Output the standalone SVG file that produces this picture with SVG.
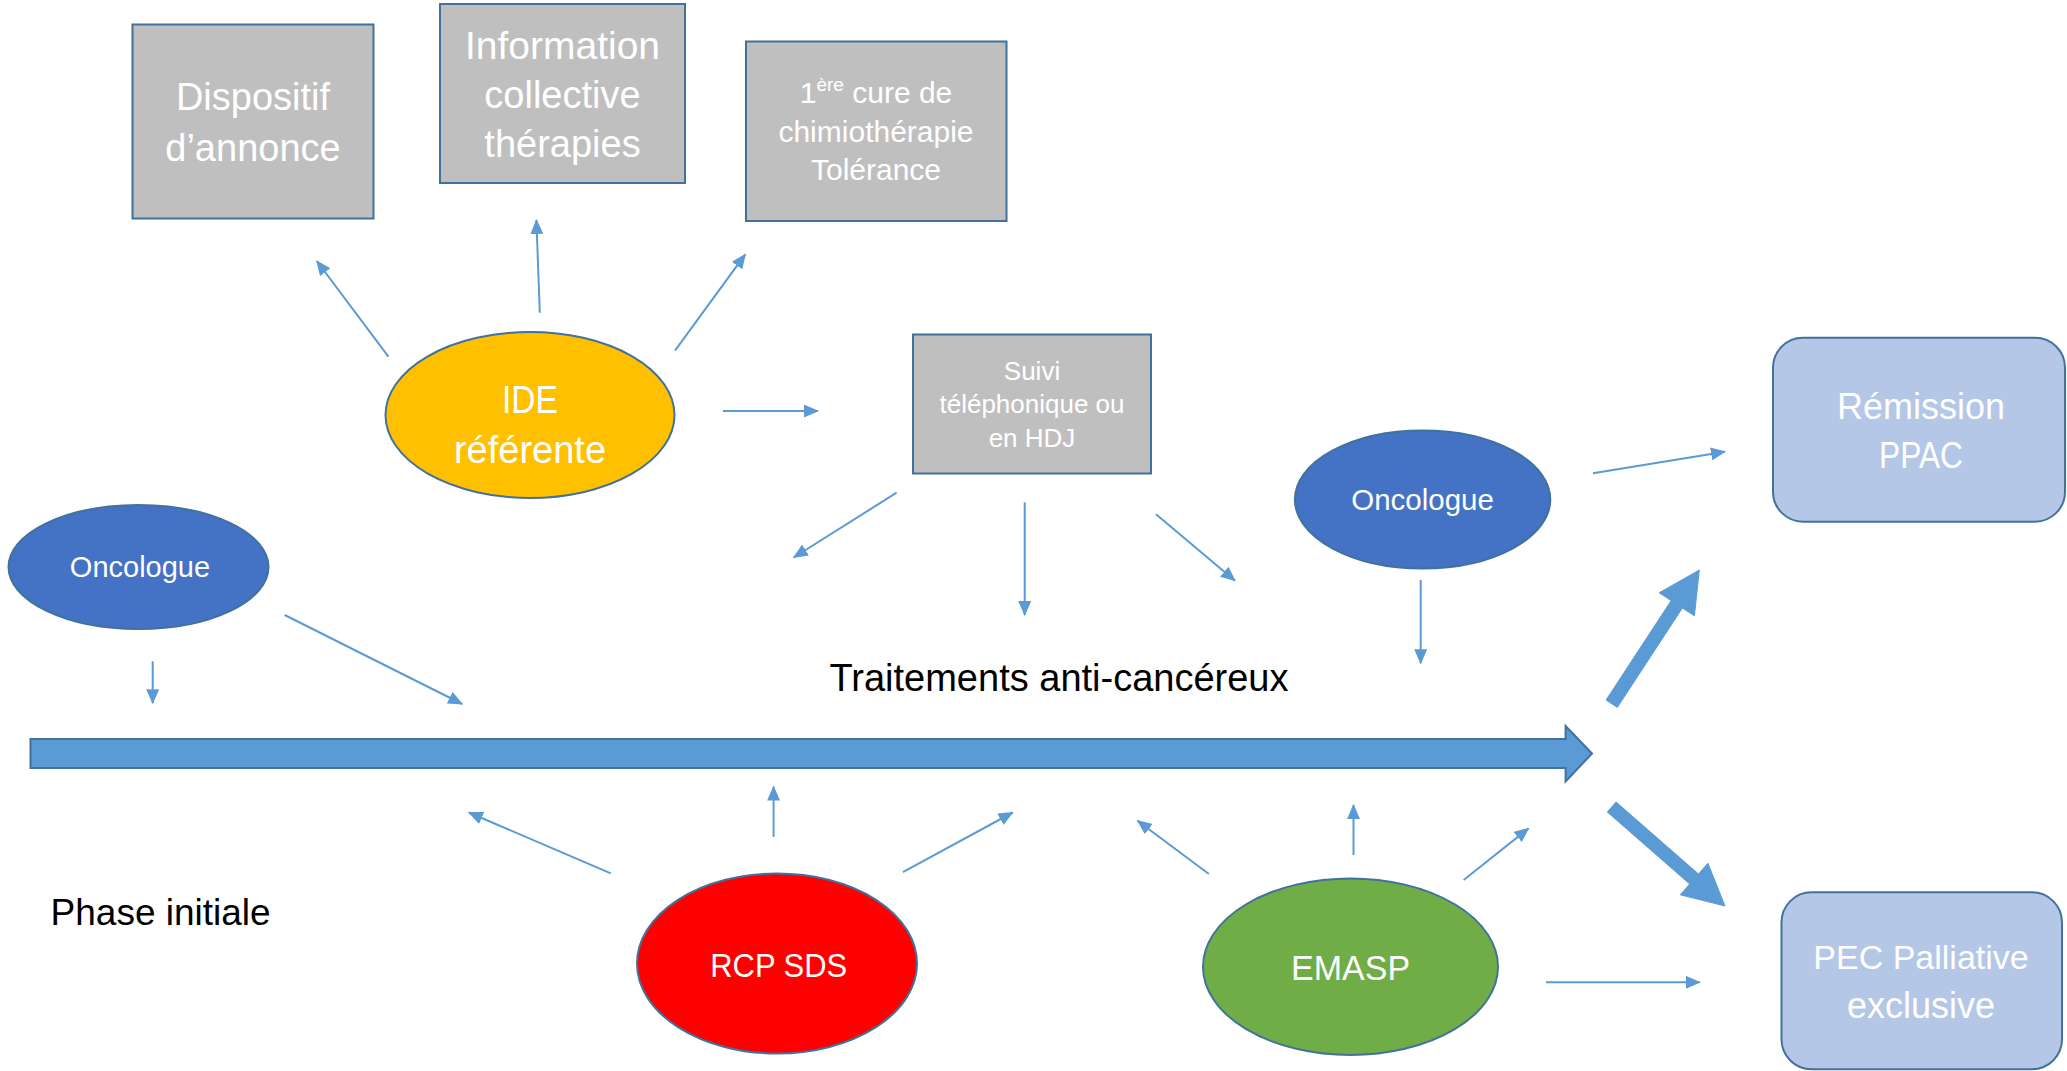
<svg xmlns="http://www.w3.org/2000/svg" width="2067" height="1071" viewBox="0 0 2067 1071">
<style>
text{font-family:"Liberation Sans",Arial,sans-serif;text-anchor:middle;fill:#FFFFFF}
.box{fill:#BFBFBF;stroke:#41719C;stroke-width:2}
.res{fill:#B4C7E7;stroke:#41719C;stroke-width:2}
.ell{stroke:#41719C;stroke-width:2}
.con line{stroke:#5B9BD5;stroke-width:2;marker-end:url(#ah)}
.thick{fill:#5B9BD5;stroke:#5B9BD5;stroke-width:1}
.dark{fill:#000000}
</style>
<defs>
<marker id="ah" markerWidth="15" markerHeight="13" refX="14" refY="6.5" orient="auto" markerUnits="userSpaceOnUse">
<path d="M0,0 L15,6.5 L0,13 z" fill="#5B9BD5"/>
</marker>
</defs>
<rect width="2067" height="1071" fill="#FFFFFF"/>

<g id="dispositif">
<rect class="box" x="132.5" y="24.5" width="241" height="194"/>
<text x="253" y="110" font-size="38">Dispositif</text>
<text x="253" y="161" font-size="38">d’annonce</text>
</g>

<g id="information">
<rect class="box" x="440" y="4" width="245" height="179"/>
<text x="562.5" y="59" font-size="39">Information</text>
<text x="562.5" y="108" font-size="38">collective</text>
<text x="562.5" y="157" font-size="38">thérapies</text>
</g>

<g id="cure">
<rect class="box" x="746" y="41.5" width="260.5" height="179.5"/>
<text x="876" y="103" font-size="30">1<tspan font-size="19" dy="-12">ère</tspan><tspan dy="12"> cure de</tspan></text>
<text x="876" y="141.5" font-size="30">chimiothérapie</text>
<text x="876" y="180" font-size="30">Tolérance</text>
</g>

<g id="ide">
<ellipse class="ell" cx="530" cy="415" rx="144.5" ry="83" fill="#FFC000"/>
<text x="530" y="413" font-size="38" textLength="56" lengthAdjust="spacingAndGlyphs">IDE</text>
<text x="530" y="463" font-size="38">référente</text>
</g>

<g id="suivi">
<rect class="box" x="913" y="334.5" width="238" height="139"/>
<text x="1032" y="380" font-size="26">Suivi</text>
<text x="1032" y="413.3" font-size="26">téléphonique ou</text>
<text x="1032" y="446.7" font-size="26">en HDJ</text>
</g>

<g id="oncologue-droite">
<ellipse class="ell" cx="1422.6" cy="499.5" rx="127.7" ry="69" fill="#4472C4"/>
<text x="1422.6" y="510" font-size="29.5">Oncologue</text>
</g>

<g id="oncologue-gauche">
<ellipse class="ell" cx="138.5" cy="567" rx="130" ry="62" fill="#4472C4"/>
<text x="140" y="576.5" font-size="29">Oncologue</text>
</g>

<g id="remission">
<rect class="res" x="1773" y="337.7" width="292" height="184" rx="30" ry="30"/>
<text x="1921" y="419" font-size="36">Rémission</text>
<text x="1921" y="468" font-size="36" textLength="84" lengthAdjust="spacingAndGlyphs">PPAC</text>
</g>

<g id="pec">
<rect class="res" x="1781.5" y="892.3" width="280.5" height="177" rx="30" ry="30"/>
<text x="1921" y="969" font-size="34">PEC Palliative</text>
<text x="1921" y="1018" font-size="36">exclusive</text>
</g>

<g id="rcp">
<ellipse class="ell" cx="777" cy="963.5" rx="140" ry="90" fill="#FF0000"/>
<text x="778.7" y="977" font-size="34" textLength="137" lengthAdjust="spacingAndGlyphs">RCP SDS</text>
</g>

<g id="emasp">
<ellipse class="ell" cx="1350.5" cy="966.7" rx="147.5" ry="88.3" fill="#70AD47"/>
<text x="1350.6" y="980" font-size="35" textLength="119" lengthAdjust="spacingAndGlyphs">EMASP</text>
</g>

<g id="traitements">
<polygon points="30.5,739 1565.6,739 1565.6,726 1592,753.5 1565.6,781.5 1565.6,768 30.5,768" fill="#5B9BD5" stroke="#41719C" stroke-width="2"/>
<text class="dark" x="1059" y="691" font-size="38">Traitements anti-cancéreux</text>
</g>

<g id="phase">
<text class="dark" x="160.6" y="925" font-size="37">Phase initiale</text>
</g>

<g id="connectors" class="con">
<line x1="388.4" y1="356.7" x2="316.8" y2="261"/>
<line x1="539.8" y1="312.7" x2="536.4" y2="220"/>
<line x1="675" y1="350.7" x2="745.3" y2="254.3"/>
<line x1="723" y1="411" x2="818" y2="411" stroke-width="2.5"/>
<line x1="896.6" y1="492.7" x2="793.7" y2="557.5"/>
<line x1="1024.7" y1="502.3" x2="1024.7" y2="615"/>
<line x1="1156" y1="514.3" x2="1235" y2="580.7"/>
<line x1="1593" y1="473.3" x2="1725" y2="451.7"/>
<line x1="1420.7" y1="580" x2="1420.7" y2="663.3"/>
<line x1="152.7" y1="661.3" x2="152.7" y2="703.2"/>
<line x1="284.7" y1="615" x2="462.2" y2="704"/>
<line x1="610.8" y1="873.3" x2="468.8" y2="812.5"/>
<line x1="773.6" y1="836.9" x2="773.6" y2="786.6"/>
<line x1="902.9" y1="872.2" x2="1012.7" y2="812.5"/>
<line x1="1208.9" y1="874" x2="1137.5" y2="820.7"/>
<line x1="1353.5" y1="855" x2="1353.5" y2="805"/>
<line x1="1463.7" y1="880" x2="1528.6" y2="828.3"/>
<line x1="1546" y1="982.3" x2="1699.8" y2="982.3" stroke-width="2.5"/>
<polygon class="thick" points="1617.3,707.4 1682.4,608.0 1694.4,615.8 1699.3,570 1659.2,592.8 1671.2,600.6 1606.1,700.0"/>
<polygon class="thick" points="1616.1,802.0 1698.5,874.0 1707.9,863.2 1725,906 1680.3,894.8 1689.7,884.0 1607.3,812.0"/>
</g>
</svg>
